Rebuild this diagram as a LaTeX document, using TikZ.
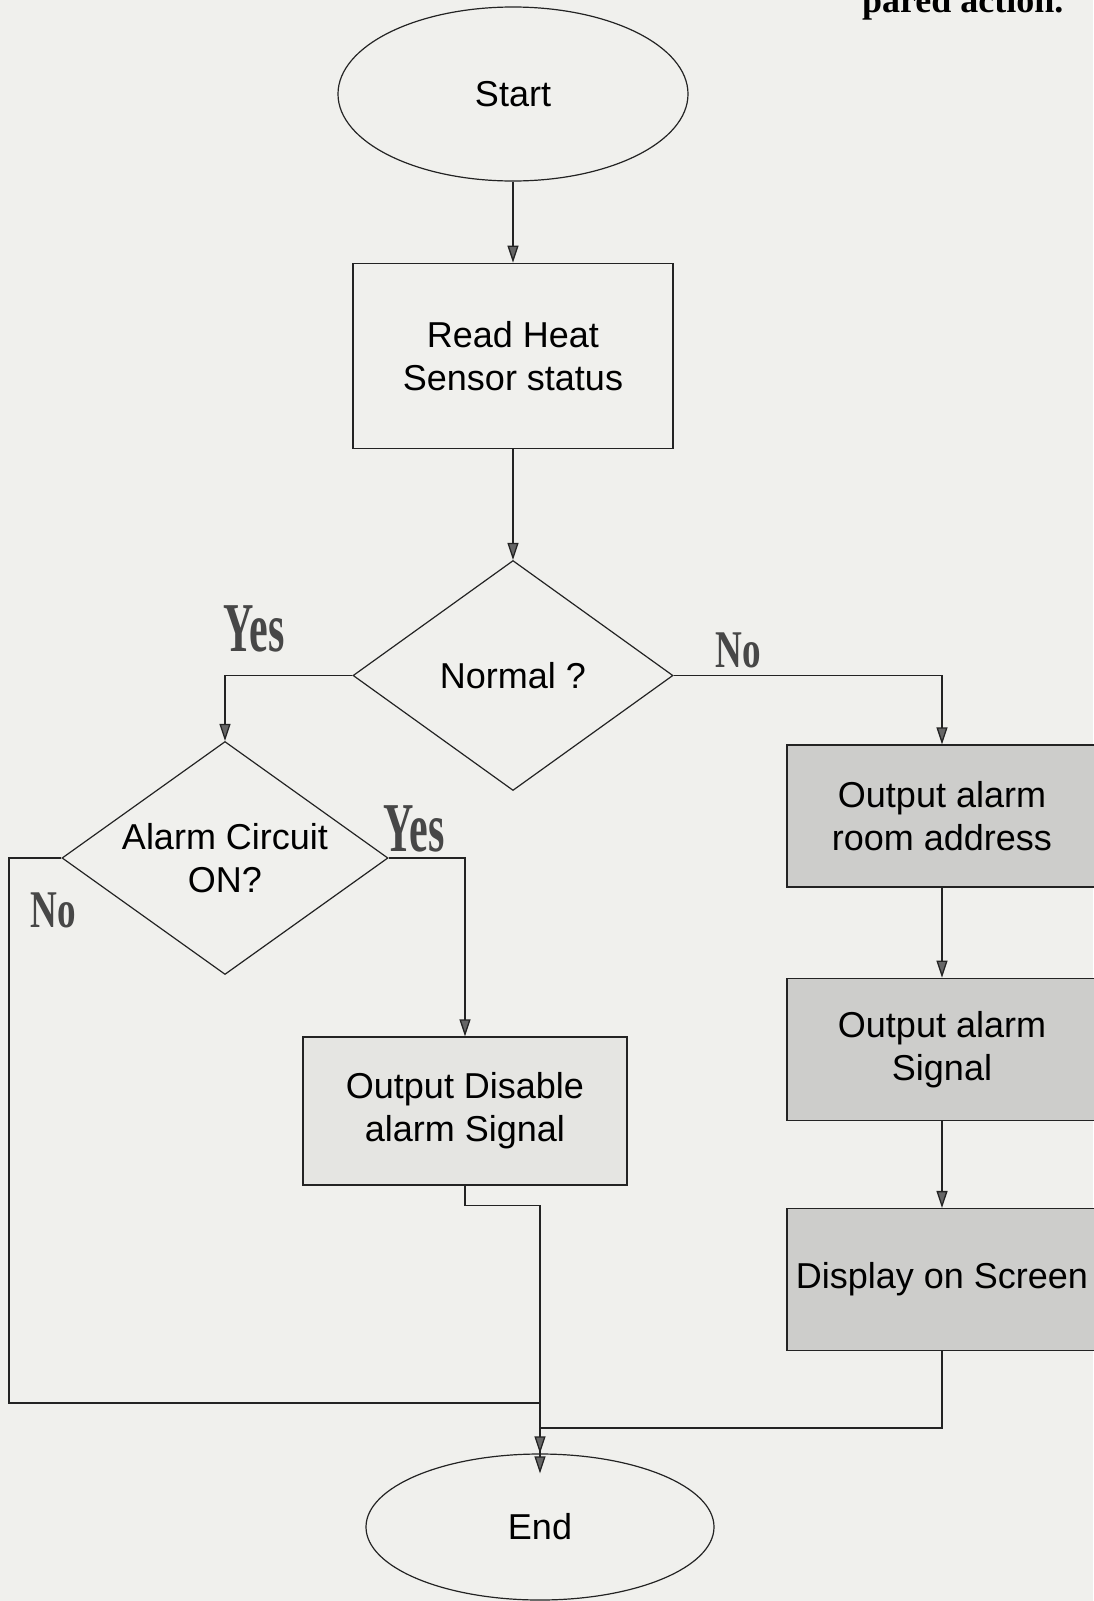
\documentclass[tikz,border=0pt]{standalone}
\usepackage{fontspec}
\usepackage{graphicx}
\setmainfont{Liberation Sans}
\newfontfamily\yesnofont{Liberation Serif}
\usetikzlibrary{arrows.meta,positioning,shapes.geometric}
\definecolor{paper}{RGB}{240,240,237}
\definecolor{ink}{RGB}{35,35,35}
\definecolor{lightfill}{RGB}{229,229,226}
\definecolor{darkfill}{RGB}{205,205,203}
\newcommand\boxfont{\fontsize{36}{43}\selectfont}
\tikzset{
  term/.style={
    draw=ink,ellipse,line width=1.2pt,
    minimum width=350pt,minimum height=174pt,font=\boxfont
  },
  proc/.style={
    draw=ink,rectangle,line width=1.3pt,inner sep=4pt,
    minimum width=320pt,minimum height=185pt,align=center,font=\boxfont
  },
  alert/.style={proc,fill=darkfill,minimum width=310pt,minimum height=142pt},
  decide/.style={
    draw=ink,diamond,line width=1.2pt,inner sep=0pt,shape aspect=1.4,
    minimum width=320pt,minimum height=230pt,align=center,font=\boxfont
  },
  answer/.style={font=\yesnofont\bfseries\fontsize{#1}{#1}\selectfont,text=black!72},
  conn/.style={-{Triangle[length=17pt,width=11pt,fill=black!60]},line width=1.3pt,draw=ink},
  wire/.style={line width=1.3pt,draw=ink}
}

\begin{document}
\begin{tikzpicture}[x=1pt,y=-1pt]
\fill[paper] (0,0) rectangle (1093,1601);
\useasboundingbox (0,0) rectangle (1093,1601);

\node[anchor=base east,font=\yesnofont\bfseries\boxfont] (pagetext) at (1067,12) {pared action.};

% main column
\node[term] (start) at (513,94) {Start};
\node[proc,below=81pt of start] (read) {Read Heat\\Sensor status};
\node[decide,below=111pt of read] (normal) {Normal ?};

% yes side
\node[decide,minimum width=326pt,minimum height=233pt] (alarm) at (225,858) {Alarm Circuit\\ON?};
\node[proc,fill=lightfill,minimum width=324pt,minimum height=148pt] (dis) at (465,1111) {Output Disable\\alarm Signal};

% no side
\node[alert] (addr) at (942,816) {Output alarm\\room address};
\node[alert,below=90pt of addr] (sig) {Output alarm\\Signal};
\node[alert,below=87pt of sig] (disp) {Display on Screen};

\node[term,minimum width=348pt,minimum height=146pt] (end) at (540,1527) {End};

\node[answer=70] (yesA) at (254,629) {\scalebox{0.6}[1]{Yes}};
\node[answer=53] (noA) at (738,650) {\scalebox{0.7}[1]{No}};
\node[answer=70] (yesB) at (414,829) {\scalebox{0.6}[1]{Yes}};
\node[answer=53] (noB) at (53,910) {\scalebox{0.7}[1]{No}};

\coordinate (jl) at (9,1403);
\coordinate (jr) at (942,1428);

\draw[conn] (start) -- (read);
\draw[conn] (read) -- (normal);
\draw[conn] (normal.west) -| (alarm.north);
\draw[conn] (normal.east) -| (addr.north);
\draw[conn] (alarm.east) -| (dis.north);
\draw[conn] (addr) -- (sig);
\draw[conn] (sig) -- (disp);
\draw[wire] (alarm.west) -| (jl) -- (jl -| end.north);
\draw[conn,shorten >=-20pt] (dis.south) -- ++(0,20) -| (end.north);
\draw[conn] (disp.south) -- (jr) -- (jr -| end.north) -- (end.north);

\end{tikzpicture}
\end{document}
